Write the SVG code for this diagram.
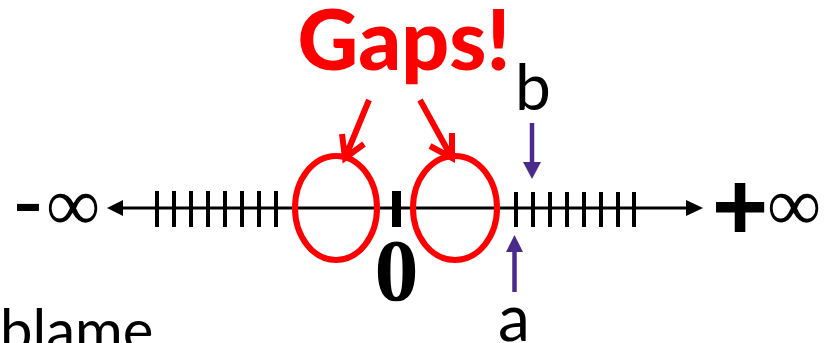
<svg xmlns="http://www.w3.org/2000/svg" width="824" height="343" viewBox="0 0 824 343">
<style>
.axis{stroke:#000;stroke-width:3;fill:none}
.tick{stroke:#000;stroke-width:4}
.gap{fill:none;stroke:#ff0000;stroke-width:6}
.red{stroke:#ff0000;stroke-width:6;fill:none;stroke-linecap:butt}
.pur{stroke:#4a2a8a;stroke-width:4.5}
.lbl{font-family:Lato,"DejaVu Sans",sans-serif;fill:#000}
.inf{font-family:"Liberation Serif",serif;font-size:76px;font-weight:normal}
</style>
<rect width="824" height="343" fill="#fff"/>
<g id="connectors">
<line class="axis" x1="120" y1="208" x2="690" y2="208"/>
<polygon points="107,208 123,200 123,216" fill="#000"/>
<polygon points="703,208 686,200 686,216" fill="#000"/>
<path class="red" d="M369,100 L345,158 M342,134 L345,158 L364,144"/>
<path class="red" d="M420,100 L452,158 M430,146 L452,158 L452,133"/>
<line class="pur" x1="532" y1="123" x2="532" y2="165"/>
<polygon points="523,162 541,162 532,179" fill="#4a2a8a"/>
<line class="pur" x1="514.5" y1="250" x2="514.5" y2="292"/>
<polygon points="506,252 523,252 514.5,235" fill="#4a2a8a"/>
</g>
<g id="ticks-left">
<line class="tick" x1="157" y1="191" x2="157" y2="227"/>
<line class="tick" x1="174" y1="191" x2="174" y2="227"/>
<line class="tick" x1="191" y1="191" x2="191" y2="227"/>
<line class="tick" x1="208" y1="191" x2="208" y2="227"/>
<line class="tick" x1="225" y1="191" x2="225" y2="227"/>
<line class="tick" x1="242" y1="191" x2="242" y2="227"/>
<line class="tick" x1="259" y1="191" x2="259" y2="227"/>
<line class="tick" x1="276" y1="191" x2="276" y2="227"/>
</g>
<g id="ticks-right">
<line class="tick" x1="516" y1="192" x2="516" y2="227"/>
<line class="tick" x1="533" y1="192" x2="533" y2="227"/>
<line class="tick" x1="550" y1="192" x2="550" y2="227"/>
<line class="tick" x1="567" y1="192" x2="567" y2="227"/>
<line class="tick" x1="584" y1="192" x2="584" y2="227"/>
<line class="tick" x1="601" y1="192" x2="601" y2="227"/>
<line class="tick" x1="618" y1="192" x2="618" y2="227"/>
<line class="tick" x1="634" y1="192" x2="634" y2="227"/>
</g>
<g id="zero">
<rect x="392" y="191" width="9" height="36" fill="#000"/>
<text x="396.5" y="300" text-anchor="middle" font-family="Liberation Serif,serif" font-weight="bold" font-size="88">0</text>
</g>
<g id="gap-left"><ellipse class="gap" cx="336" cy="208" rx="41" ry="52"/></g>
<g id="gap-right"><ellipse class="gap" cx="455" cy="208" rx="42" ry="52"/></g>
<g id="neg-inf">
<text y="232" font-family="Liberation Sans,sans-serif" font-size="90"><tspan x="13">-</tspan><tspan x="46" y="230" class="inf">∞</tspan></text>
</g>
<g id="pos-inf">
<text y="240" font-family="Liberation Sans,sans-serif" font-weight="bold" font-size="96"><tspan x="712">+</tspan><tspan x="767" y="230" class="inf">∞</tspan></text>
</g>
<g id="gaps-label">
<text x="404" y="70" text-anchor="middle" font-family="Lato,sans-serif" font-weight="900" font-size="84" fill="#ff0000">Gaps!</text>
</g>
<g id="label-b"><text x="533" y="110" text-anchor="middle" class="lbl" font-size="64">b</text></g>
<g id="label-a"><text x="514" y="341" text-anchor="middle" class="lbl" font-size="64">a</text></g>
<g id="blame"><text x="0" y="351" class="lbl" font-size="58">blame</text></g>
</svg>
